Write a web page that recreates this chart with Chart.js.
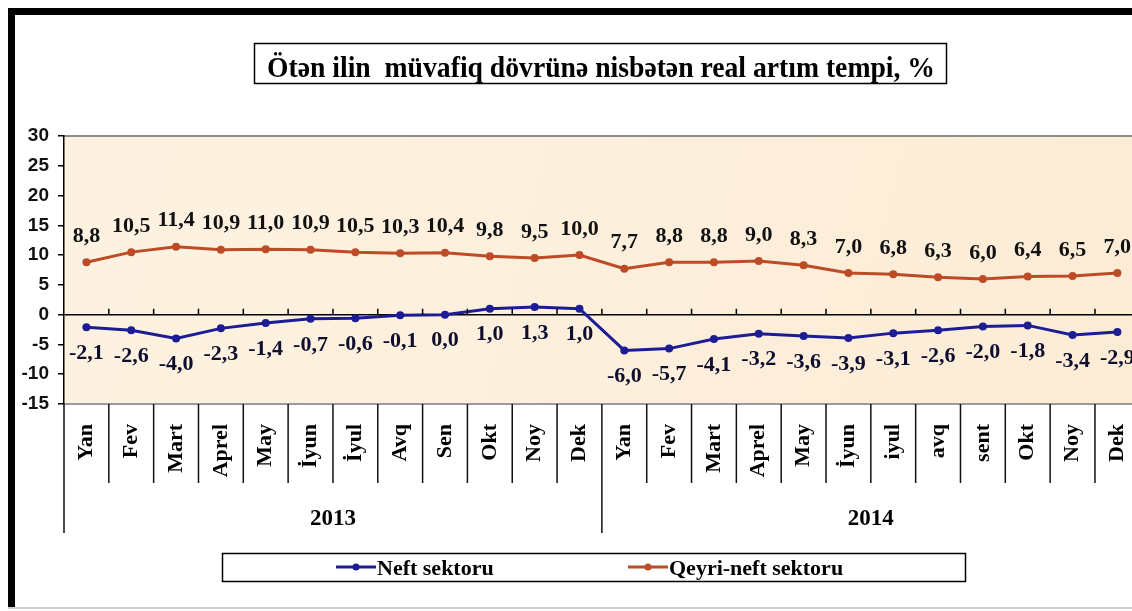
<!DOCTYPE html>
<html>
<head>
<meta charset="utf-8">
<script src="https://cdn.jsdelivr.net/npm/chart.js@4.4.1/dist/chart.umd.min.js"></script>
<style>
  html, body { margin: 0; padding: 0; background: #fff; overflow: hidden; }
  #wrap { position: absolute; left: 0; top: 0; width: 1164px; height: 611px; }
</style>
</head>
<body>
<div id="wrap"><canvas id="chart" width="1164" height="611"></canvas></div>
<script>
// months, two years
const months = ['Yan', 'Fev', 'Mart', 'Aprel', 'May', 'İyun', 'İyul', 'Avq', 'Sen', 'Okt', 'Noy', 'Dek',
                'Yan', 'Fev', 'Mart', 'Aprel', 'May', 'İyun', 'iyul', 'avq', 'sent', 'Okt', 'Noy', 'Dek'];
const years = ['2013', '2014'];
const neft = [-2.1, -2.6, -4.0, -2.3, -1.4, -0.7, -0.6, -0.1, 0.0, 1.0, 1.3, 1.0,
              -6.0, -5.7, -4.1, -3.2, -3.6, -3.9, -3.1, -2.6, -2.0, -1.8, -3.4, -2.9];
const qeyriNeft = [8.8, 10.5, 11.4, 10.9, 11.0, 10.9, 10.5, 10.3, 10.4, 9.8, 9.5, 10.0,
                   7.7, 8.8, 8.8, 9.0, 8.3, 7.0, 6.8, 6.3, 6.0, 6.4, 6.5, 7.0];
const yTicks = [-15, -10, -5, 0, 5, 10, 15, 20, 25, 30];

const title = 'Ötən ilin  müvafiq dövrünə nisbətən real artım tempi, %';
const blue = '#1c1c94';
const orange = '#bd4b26';
const serif = '"Liberation Serif", "Times New Roman", serif';

function fmt(v) {
    return v.toFixed(1).replace('.', ',');
}

// text squeezed to a given width (the original font is narrow)
function fitText(ctx, text, x, y, width, align) {
    const w = ctx.measureText(text).width;
    const sx = Math.min(1, width / w);
    ctx.save();
    ctx.translate(x, y);
    ctx.scale(sx, 1);
    ctx.textAlign = align;
    ctx.fillText(text, 0, 0);
    ctx.restore();
}

const decor = {
    id: 'decor',
    beforeDraw(chart) {
        const { ctx, chartArea: a } = chart;
        const g = ctx.createLinearGradient(a.left, a.top, a.right, a.bottom);
        g.addColorStop(0, '#fdf2e1');
        g.addColorStop(1, '#fcecd6');
        ctx.fillStyle = g;
        ctx.fillRect(a.left, a.top, a.right - a.left, a.bottom - a.top);
        ctx.fillStyle = '#8c8c8c';
        ctx.fillRect(a.left, a.top - 1, a.right - a.left, 2);
    },
    afterDraw(chart) {
        const { ctx, chartArea: a } = chart;
        const x = chart.scales.x;
        const y = chart.scales.y;
        const step = x.getPixelForValue(1) - x.getPixelForValue(0);
        const edge = i => x.getPixelForValue(i) - step / 2;

        ctx.save();
        // frame
        ctx.fillStyle = '#000';
        ctx.fillRect(8, 8, 1170, 7);
        ctx.fillRect(8, 8, 7, 600);
        ctx.fillStyle = '#cfcfcf';
        ctx.fillRect(8, 607, 1170, 2);

        // title box
        ctx.strokeStyle = '#000';
        ctx.lineWidth = 1.5;
        ctx.strokeRect(254.5, 43.5, 692, 40);
        ctx.fillStyle = '#000';
        ctx.font = 'bold 29px ' + serif;
        ctx.textBaseline = 'alphabetic';
        fitText(ctx, title, 601, 77, 668, 'center');

        // small ticks on the zero line
        const zy = y.getPixelForValue(0);
        ctx.strokeStyle = '#000';
        ctx.lineWidth = 1.5;
        ctx.beginPath();
        for (let i = 1; i < months.length; i++) {
            ctx.moveTo(edge(i), zy);
            ctx.lineTo(edge(i), zy - 6);
        }
        ctx.stroke();

        // category separators below the plot
        ctx.strokeStyle = '#111';
        ctx.lineWidth = 1.5;
        ctx.beginPath();
        for (let i = 1; i < months.length; i++) {
            if (i % 12 === 0) continue;
            ctx.moveTo(edge(i), a.bottom);
            ctx.lineTo(edge(i), 483);
        }
        for (let i = 0; i <= months.length; i += 12) {
            ctx.moveTo(edge(i), a.bottom);
            ctx.lineTo(edge(i), 533);
        }
        ctx.stroke();

        // year labels
        ctx.fillStyle = '#000';
        ctx.font = 'bold 23px ' + serif;
        ctx.textAlign = 'center';
        ctx.textBaseline = 'middle';
        years.forEach((yr, k) => {
            const cx = (edge(k * 12) + edge(k * 12 + 12)) / 2;
            ctx.fillText(yr, cx, 519);
        });

        // data labels
        ctx.font = 'bold 22px ' + serif;
        chart.getDatasetMeta(1).data.forEach((p, i) => {
            ctx.fillStyle = '#111';
            ctx.fillText(fmt(qeyriNeft[i]), p.x, p.y - 26);
        });
        chart.getDatasetMeta(0).data.forEach((p, i) => {
            ctx.fillStyle = '#0d0d2e';
            ctx.fillText(fmt(neft[i]), p.x, p.y + 26);
        });

        // legend
        ctx.strokeStyle = '#000';
        ctx.lineWidth = 1.5;
        ctx.strokeRect(222.5, 553.5, 743, 28);
        const items = [
            { label: chart.data.datasets[0].label, color: blue, x0: 336, x1: 376, w: 128 },
            { label: chart.data.datasets[1].label, color: orange, x0: 628, x1: 668, w: 188 }
        ];
        ctx.font = 'bold 22px ' + serif;
        ctx.textBaseline = 'alphabetic';
        items.forEach(it => {
            ctx.strokeStyle = it.color;
            ctx.lineWidth = 3;
            ctx.beginPath();
            ctx.moveTo(it.x0, 567);
            ctx.lineTo(it.x1, 567);
            ctx.stroke();
            ctx.fillStyle = it.color;
            ctx.beginPath();
            ctx.arc((it.x0 + it.x1) / 2, 567, 3.5, 0, Math.PI * 2);
            ctx.fill();
            ctx.fillStyle = '#000';
            fitText(ctx, it.label, it.x1 + 1, 575, it.w, 'left');
        });
        ctx.restore();
    }
};

new Chart(document.getElementById('chart'), {
    type: 'line',
    data: {
        labels: months,
        datasets: [{
            label: 'Neft sektoru',
            data: neft,
            borderColor: blue,
            backgroundColor: blue,
            borderWidth: 3,
            pointRadius: 4,
            pointBackgroundColor: blue,
            pointBorderWidth: 0,
            tension: 0
        }, {
            label: 'Qeyri-neft sektoru',
            data: qeyriNeft,
            borderColor: orange,
            backgroundColor: orange,
            borderWidth: 3,
            pointRadius: 4,
            pointBackgroundColor: orange,
            pointBorderWidth: 0,
            tension: 0
        }]
    },
    options: {
        responsive: false,
        animation: false,
        devicePixelRatio: 1,
        layout: { padding: { left: 14, right: 11, top: 136, bottom: 0 } },
        plugins: {
            legend: { display: false },
            tooltip: { enabled: false }
        },
        scales: {
            x: {
                offset: true,
                grid: { display: false, drawTicks: false },
                border: { display: true, color: '#9a9a9a', width: 2 },
                ticks: {
                    autoSkip: false,
                    minRotation: 90,
                    maxRotation: 90,
                    padding: 20,
                    color: '#000',
                    font: { family: serif, size: 22, weight: 'bold' }
                },
                afterFit(scale) { scale.height = 207; }
            },
            y: {
                min: -15,
                max: 30,
                afterBuildTicks(scale) { scale.ticks = yTicks.map(v => ({ value: v })); },
                grid: {
                    color: c => c.tick && c.tick.value === 0 ? '#000' : 'rgba(0,0,0,0)',
                    tickColor: '#000',
                    tickLength: 6,
                    lineWidth: 1.5
                },
                border: { display: true, color: '#000', width: 1.5 },
                ticks: {
                    padding: 9,
                    color: '#111',
                    font: { family: '"Liberation Sans", Arial, sans-serif', size: 19, weight: 'bold' }
                },
                afterFit(scale) { scale.width = 50; }
            }
        }
    },
    plugins: [decor]
});
</script>
</body>
</html>
